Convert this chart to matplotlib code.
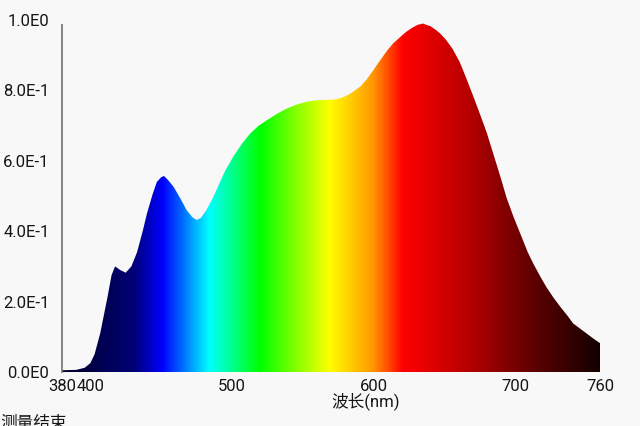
#Spectrum plot: relative intensity vs wavelength, filled with the spectral colours

import matplotlib
matplotlib.use('Agg')
import matplotlib.pyplot as plt
from matplotlib.colors import LinearSegmentedColormap
from matplotlib.patches import Polygon
import numpy as np

plt.rcParams['font.family'] = ['Roboto', 'Noto Sans CJK SC', 'DejaVu Sans']

#Values
wavelength = [380, 390, 396, 400, 403, 407, 412, 415, 417.5, 421, 425, 429, 433, 437, 440, 444, 447,
              450, 452, 455, 459, 464, 468, 472, 475, 478, 482, 486, 490, 495, 501, 507, 513, 519,
              525, 532, 539, 546, 553, 560, 567, 572, 577, 582, 586, 591, 595, 600, 605, 610, 614,
              619, 623, 627, 631, 635, 638, 640, 644, 647, 651, 656, 661, 666, 671, 675, 680, 685,
              690, 694, 699, 704, 709, 713, 718, 722, 727, 732, 737, 741, 746, 751, 756, 760]
intensity = [0.005, 0.006, 0.012, 0.025, 0.05, 0.11, 0.21, 0.275, 0.30, 0.29, 0.282, 0.30, 0.34,
             0.40, 0.45, 0.505, 0.54, 0.553, 0.557, 0.545, 0.525, 0.49, 0.46, 0.44, 0.432, 0.437,
             0.46, 0.49, 0.525, 0.57, 0.612, 0.648, 0.678, 0.70, 0.716, 0.734, 0.749, 0.76, 0.768,
             0.772, 0.773, 0.774, 0.778, 0.787, 0.797, 0.812, 0.83, 0.858, 0.887, 0.915, 0.934,
             0.952, 0.966, 0.977, 0.986, 0.99, 0.985, 0.983, 0.972, 0.962, 0.945, 0.917, 0.88,
             0.83, 0.778, 0.735, 0.68, 0.615, 0.55, 0.495, 0.44, 0.39, 0.34, 0.307, 0.27, 0.242,
             0.212, 0.185, 0.16, 0.138, 0.123, 0.108, 0.093, 0.082]

x_ticks = [380, 400, 500, 600, 700, 760]
y_ticks = [0.0, 0.2, 0.4, 0.6, 0.8, 1.0]
y_ticklabels = ['0.0E0', '2.0E-1', '4.0E-1', '6.0E-1', '8.0E-1', '1.0E0']
x_label = '波长(nm)'
status_text = '测量结束'

#spectral colours (wavelength, rgb)
colour_nodes = [(380, (0, 0, 40)), (420, (0, 0, 100)), (430, (0, 0, 115)), (451, (0, 0, 255)),
                (484, (0, 255, 255)), (520, (0, 255, 0)), (569, (255, 255, 0)), (600, (255, 150, 0)),
                (621, (255, 0, 0)), (663, (190, 0, 0)), (710, (100, 0, 0)), (760, (20, 0, 0))]
wl_min, wl_max = 380, 760
cmap = LinearSegmentedColormap.from_list(
    'spectrum', [((w - wl_min) / (wl_max - wl_min), tuple(c / 255. for c in rgb)) for w, rgb in colour_nodes], N=512)

bg = '#f8f8f8'
txt = '#161616'
fs = 12
fig = plt.figure(figsize=(6.4, 4.26), dpi=100, facecolor=bg)
ax = fig.add_axes([62/640, 1-372/426, 538/640, 352/426], facecolor=bg)

grad = np.linspace(0, 1, 512).reshape(1, -1)
im = ax.imshow(grad, cmap=cmap, extent=[wl_min, wl_max, 0, 1], aspect='auto', origin='lower', zorder=2)
verts = np.column_stack([wavelength + [wavelength[-1], wavelength[0]], intensity + [0, 0]])
poly = Polygon(verts, closed=True, facecolor='none', edgecolor='none', transform=ax.transData)
ax.add_patch(poly)
im.set_clip_path(poly)

ax.set_xlim(wl_min, wl_max)
ax.set_ylim(0, 1.0)
for s in ['top', 'right', 'bottom']:
    ax.spines[s].set_visible(False)
ax.spines['left'].set_color('#7a7a7a')
ax.spines['left'].set_linewidth(1.3)
ax.spines['left'].set_bounds(0, 0.985)

ax.set_xticks(x_ticks)
ax.set_xticklabels([str(t) for t in x_ticks], fontsize=fs, color=txt)
ax.set_yticks(y_ticks)
ax.set_yticklabels(y_ticklabels, fontsize=fs, color=txt)
ax.tick_params(axis='both', length=0)
ax.tick_params(axis='y', pad=9)
ax.tick_params(axis='x', pad=5)

fig.text(366/640, 1-401/426, x_label, fontsize=fs, ha='center', va='center', color=txt)
fig.text(0, 1-416/426, status_text, fontsize=fs, ha='left', va='top', color=txt)

fig.savefig('out.png', dpi=100, facecolor=bg)
